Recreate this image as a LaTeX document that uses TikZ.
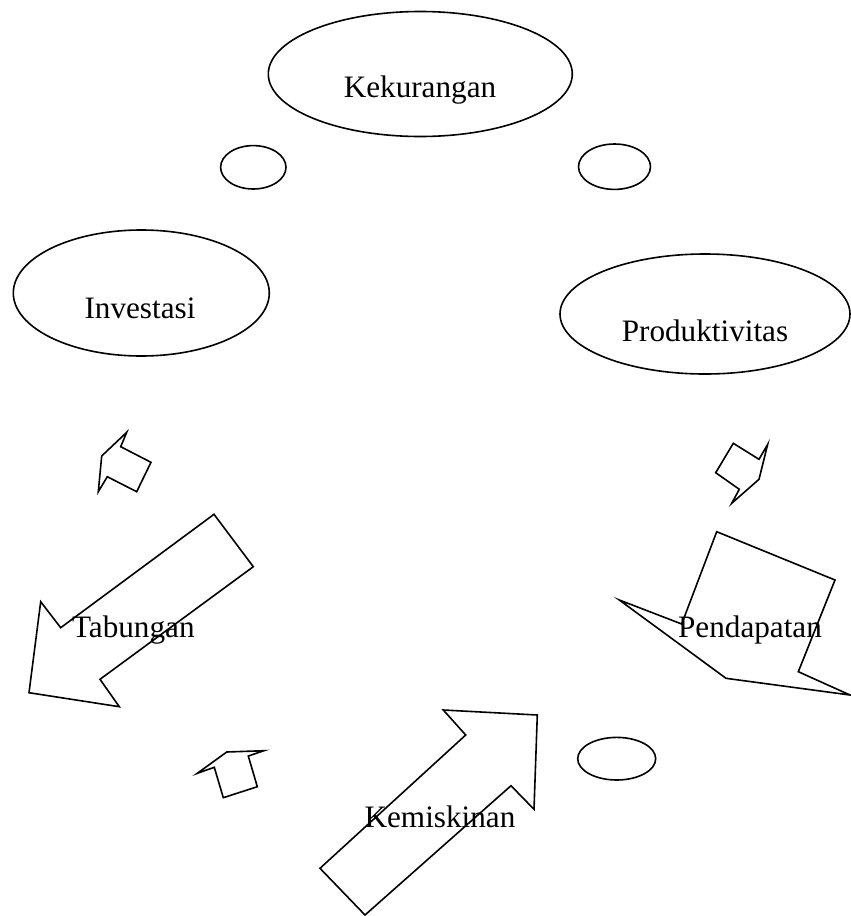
\documentclass[tikz,border=0pt]{standalone}
\usepackage{fontspec}
\setmainfont{Liberation Serif}
\newlength{\du}
\setlength{\du}{0.5pt}
\tikzset{lbl/.style={font=\fontsize{15.6}{18}\selectfont, inner sep=0pt}}

\begin{document}
\begin{tikzpicture}
\pgftransformxscale{1.000000}
\pgftransformyscale{-1.000000}
\useasboundingbox (0\du,0\du) rectangle (851\du,916\du);
\definecolor{dialinecolor}{rgb}{0.000000, 0.000000, 0.000000}
\pgfsetstrokecolor{dialinecolor}
\pgfsetlinewidth{1.600000\du}
\pgfsetmiterjoin
% ellipses
\pgfpathellipse{\pgfpoint{420.300000\du}{74.000000\du}}{\pgfpoint{152.000000\du}{0\du}}{\pgfpoint{0\du}{62.500000\du}}
\pgfusepath{stroke}
\node[lbl] (kekurangan) at (420.000000\du,90.000000\du){Kekurangan};
\pgfpathellipse{\pgfpoint{253.300000\du}{167.300000\du}}{\pgfpoint{32.700000\du}{0\du}}{\pgfpoint{0\du}{21.700000\du}}
\pgfusepath{stroke}
\pgfpathellipse{\pgfpoint{614.500000\du}{166.700000\du}}{\pgfpoint{36.000000\du}{0\du}}{\pgfpoint{0\du}{22.700000\du}}
\pgfusepath{stroke}
\pgfpathellipse{\pgfpoint{141.300000\du}{293.000000\du}}{\pgfpoint{128.000000\du}{0\du}}{\pgfpoint{0\du}{63.000000\du}}
\pgfusepath{stroke}
\node[lbl] (investasi) at (140.000000\du,308.300000\du){Investasi};
\pgfpathellipse{\pgfpoint{705.000000\du}{314.000000\du}}{\pgfpoint{145.000000\du}{0\du}}{\pgfpoint{0\du}{60.000000\du}}
\pgfusepath{stroke}
\node[lbl] (produktivitas) at (705.000000\du,331.000000\du){Produktivitas};
\pgfpathellipse{\pgfpoint{616.700000\du}{758.700000\du}}{\pgfpoint{39.000000\du}{0\du}}{\pgfpoint{0\du}{21.300000\du}}
\pgfusepath{stroke}
% small arrows
\draw (126.700000\du,432.300000\du)--(120.700000\du,446.700000\du)--(151.000000\du,462.300000\du)--(136.700000\du,491.700000\du)--(107.300000\du,476.700000\du)--(98.300000\du,491.700000\du)--(101.700000\du,456.000000\du)--cycle;
\draw (733.300000\du,443.300000\du)--(759.000000\du,459.300000\du)--(767.700000\du,444.300000\du)--(759.000000\du,479.300000\du)--(731.700000\du,503.300000\du)--(739.300000\du,489.300000\du)--(715.700000\du,472.700000\du)--cycle;
\draw (197.300000\du,773.300000\du)--(226.700000\du,752.000000\du)--(264.000000\du,750.700000\du)--(248.300000\du,756.000000\du)--(257.300000\du,786.700000\du)--(223.300000\du,797.700000\du)--(214.300000\du,767.300000\du)--cycle;
% big arrows
\draw (214.000000\du,514.300000\du)--(253.300000\du,566.700000\du)--(100.000000\du,679.300000\du)--(119.300000\du,706.700000\du)--(29.000000\du,692.700000\du)--(40.700000\du,601.700000\du)--(60.700000\du,627.700000\du)--cycle;
\node[lbl] (tabungan) at (133.300000\du,630.000000\du){Tabungan};
\draw (716.700000\du,531.700000\du)--(835.000000\du,580.000000\du)--(798.300000\du,671.700000\du)--(850.000000\du,695.000000\du)--(726.000000\du,678.300000\du)--(619.300000\du,600.000000\du)--(681.700000\du,624.000000\du)--cycle;
\node[lbl] (pendapatan) at (750.000000\du,630.000000\du){Pendapatan};
\draw (443.300000\du,710.000000\du)--(537.300000\du,715.000000\du)--(534.000000\du,809.300000\du)--(511.000000\du,785.700000\du)--(365.000000\du,915.000000\du)--(320.000000\du,868.300000\du)--(465.700000\du,735.000000\du)--cycle;
\node[lbl] (kemiskinan) at (440.000000\du,816.700000\du){Kemiskinan};
\end{tikzpicture}
\end{document}
